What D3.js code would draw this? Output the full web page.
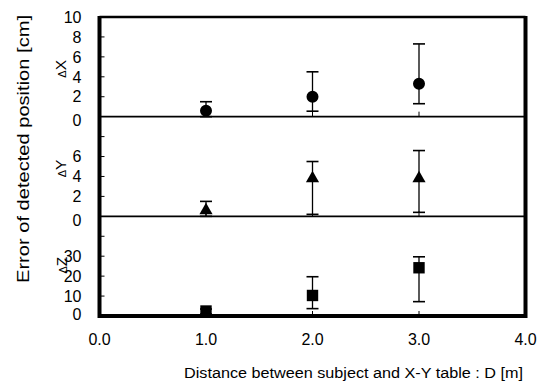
<!DOCTYPE html>
<html><head><meta charset="utf-8">
<script src="https://cdn.jsdelivr.net/npm/d3@7"></script>
<style>
body{margin:0;background:#fff;}
svg text{font-family:Arial,"Liberation Sans",sans-serif;fill:#000;}
</style></head>
<body><svg id="chart" width="543" height="383"></svg>
<script>
'use strict';
// distances (m) and error stats per axis: mean, upper and lower error-bar ends
const distances=[1,2,3];
const dxMean=[0.6,2.0,3.3],  dxHi=[1.5,4.5,7.3],  dxLo=[0.0,0.55,1.3];
const dyMean=[0.6,3.8,3.8],  dyHi=[1.5,5.5,6.6],  dyLo=[0.0,0.2,0.4];
const dzMean=[2.5,10.3,24.2],dzHi=[3.5,19.7,29.7],dzLo=[1.0,3.7,7.2];
const xTicks=[0,1,2,3,4];

const panels=[
  {name:'X', mean:dxMean, hi:dxHi, lo:dxLo, max:10, labels:[0,2,4,6,8,10], ticks:[2,4,6,8], marker:'circle'},
  {name:'Y', mean:dyMean, hi:dyHi, lo:dyLo, max:10, labels:[0,2,4,6], ticks:[2,4,6,8], marker:'triangle'},
  {name:'Z', mean:dzMean, hi:dzHi, lo:dzLo, max:50, labels:[0,10,20,30], ticks:[10,20,30,40], marker:'square'}
];

const svg=d3.select('#chart');
const L=99.5, R=525.5, T=17, B=316;
const ph=(B-T)/3;
const x=d3.scaleLinear().domain([0,4]).range([L,R]);

panels.forEach((p,i)=>{
  const y0=T+ph*(i+1), y1=T+ph*i;
  const y=d3.scaleLinear().domain([0,p.max]).range([y0,y1]);
  const g=svg.append('g');

  // baseline separator
  if(i<2) g.append('line').attr('x1',L).attr('x2',R).attr('y1',y(0)).attr('y2',y(0))
    .attr('stroke','#000').attr('stroke-width',1.6);

  // inward ticks on the left
  g.selectAll('.yt').data(p.ticks).join('line')
    .attr('x1',L).attr('x2',L+5).attr('y1',d=>y(d)).attr('y2',d=>y(d))
    .attr('stroke','#000').attr('stroke-width',1);
  // small inward x ticks on each baseline
  g.selectAll('.xt').data(distances).join('line')
    .attr('x1',d=>x(d)).attr('x2',d=>x(d)).attr('y1',y(0)).attr('y2',y(0)-5)
    .attr('stroke','#000').attr('stroke-width',1);

  g.selectAll('.yl').data(p.labels).join('text')
    .attr('x',81.5).attr('y',d=>y(d)+(d===0?(i<2?4:-2):0))
    .attr('dy','0.36em').attr('text-anchor','end').attr('font-size',16).text(d=>d);

  // axis name, rotated
  const t=g.append('text').attr('transform',`translate(${i===2?67:66},${(y0+y1)/2+(i===2?-1:2)}) rotate(-90)`)
    .attr('text-anchor','middle');
  t.append('tspan').attr('font-size',11).text('Δ');
  t.append('tspan').attr('font-size',15.5).text(p.name);

  const pts=distances.map((d,k)=>({d,m:p.mean[k],hi:p.hi[k],lo:p.lo[k]}));
  g.selectAll('.eb').data(pts).join('line')
    .attr('x1',d=>x(d.d)).attr('x2',d=>x(d.d)).attr('y1',d=>y(d.lo)).attr('y2',d=>y(d.hi))
    .attr('stroke','#000').attr('stroke-width',1.3);
  ['hi','lo'].forEach(k=>{
    g.selectAll('.cap'+k).data(pts).join('line')
      .attr('x1',d=>x(d.d)-6).attr('x2',d=>x(d.d)+6).attr('y1',d=>y(d[k])).attr('y2',d=>y(d[k]))
      .attr('stroke','#000').attr('stroke-width',1.6);
  });
  const sym={circle:d3.symbolCircle,triangle:d3.symbolTriangle,square:d3.symbolSquare}[p.marker];
  const size={circle:113,triangle:75,square:130}[p.marker];
  g.selectAll('.pt').data(pts).join('path')
    .attr('d',d3.symbol(sym,size))
    .attr('transform',d=>`translate(${x(d.d)},${y(d.m)})`).attr('fill','#000');
});

// frame: thinner top, heavy left/right/bottom
svg.append('line').attr('x1',L).attr('x2',R).attr('y1',T).attr('y2',T).attr('stroke','#000').attr('stroke-width',2.5);
svg.append('path').attr('d',`M${L},${T-1}V${B}H${R}V${T-1}`).attr('fill','none')
  .attr('stroke','#000').attr('stroke-width',4);

svg.selectAll('.xl').data(xTicks).join('text')
  .attr('x',d=>x(d)).attr('y',345).attr('text-anchor','middle').attr('font-size',16)
  .text(d=>d.toFixed(1));

svg.append('text').attr('x',353.5).attr('y',378).attr('text-anchor','middle').attr('font-size',15.5)
  .attr('textLength',339).attr('lengthAdjust','spacingAndGlyphs')
  .text('Distance between subject and X-Y table : D [m]');
svg.append('text').attr('transform','translate(29,149) rotate(-90)').attr('text-anchor','middle')
  .attr('font-size',16).attr('textLength',268).attr('lengthAdjust','spacingAndGlyphs')
  .text('Error of detected position [cm]');
</script></body></html>
